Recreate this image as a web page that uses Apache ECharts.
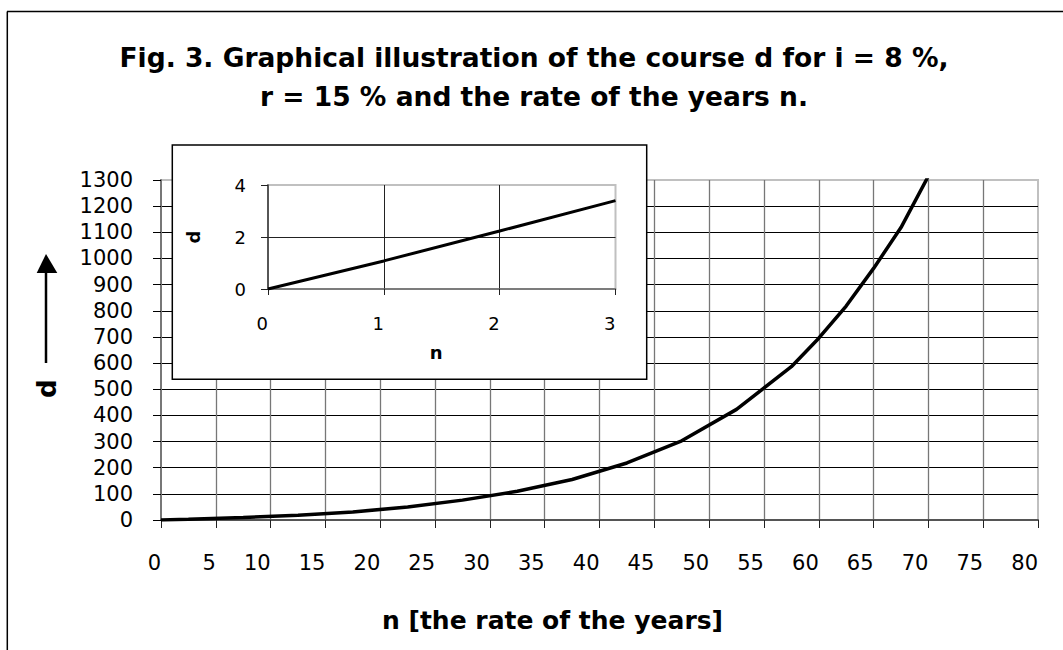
<!DOCTYPE html>
<html>
<head>
<meta charset="utf-8">
<script src="https://cdn.jsdelivr.net/npm/echarts@6/dist/echarts.min.js"></script>
<style>
html,body{margin:0;padding:0;background:#fff;}
#chart{width:1063px;height:650px;}
</style>
</head>
<body>
<div id="chart"></div>
<script>
// ---- data ----
const titleLines = ['Fig. 3. Graphical illustration of the course d for i = 8 %,', 'r = 15 % and the rate of the years n.'];
const xAxisTitle = 'n [the rate of the years]';
const yAxisTitle = 'd';
const insetXTitle = 'n';
const insetYTitle = 'd';

// main curve: n (years) and d
const nValues = [0, 2.5, 7.5, 12.5, 17.5, 22.5, 27.5, 32.5, 37.5, 42.5, 47.5, 52.5, 57.5, 60, 62.5, 65, 67.5, 70];
const dValues = [0, 3, 9.5, 18, 31, 50, 76, 110, 155, 218, 303, 423, 586, 695, 818, 962, 1118, 1315];

// inset curve
const insetN = [0, 1, 2, 3];
const insetD = [0, 1.08, 2.23, 3.4];

// axis scales
const xTicks = {min: 0, max: 80, step: 5};
const yTicks = {min: 0, max: 1300, step: 100};
const insetXTicks = {min: 0, max: 3, step: 1};
const insetYTicks = {min: 0, max: 4, step: 2};

const FONT = 'DejaVu Sans';
const plain = v => String(v);
const mainData = nValues.map((n, i) => [n, dValues[i]]);
const insetData = insetN.map((n, i) => [n, insetD[i]]);

const chart = echarts.init(document.getElementById('chart'), null, {renderer: 'svg'});
const option = {
  animation: false,
  backgroundColor: '#ffffff',
  grid: [
    {left: 161, top: 180, width: 877, height: 340, show: true, borderColor: '#c0c0c0', borderWidth: 2, backgroundColor: 'transparent', z: 0},
    {left: 268, top: 185, width: 347.5, height: 104, show: true, borderColor: '#c0c0c0', borderWidth: 2, backgroundColor: '#ffffff', z: 10}
  ],
  xAxis: [
    {
      type: 'value', gridIndex: 0, min: xTicks.min, max: xTicks.max, interval: xTicks.step,
      name: xAxisTitle, nameLocation: 'middle', nameGap: 88,
      nameTextStyle: {fontFamily: FONT, fontWeight: 'bold', fontSize: 25, color: '#000', padding: [0, 94, 0, 0]},
      axisLine: {show: true, onZero: false, lineStyle: {color: '#555', width: 2}},
      axisTick: {show: true, inside: false, length: 8, lineStyle: {color: '#222', width: 1}},
      axisLabel: {show: true, margin: 32, align: 'right', fontFamily: FONT, fontSize: 21, color: '#000', formatter: plain},
      splitLine: {show: true, showMinLine: false, showMaxLine: false, lineStyle: {color: '#777', width: 1.3}}
    },
    {
      type: 'value', gridIndex: 1, min: insetXTicks.min, max: insetXTicks.max, interval: insetXTicks.step, z: 10,
      name: insetXTitle, nameLocation: 'middle', nameGap: 54,
      nameTextStyle: {fontFamily: FONT, fontWeight: 'bold', fontSize: 18, color: '#000', padding: [0, 11, 0, 0]},
      axisLine: {show: true, onZero: false, lineStyle: {color: '#666', width: 1.5}},
      axisTick: {show: true, inside: false, length: 6, lineStyle: {color: '#222', width: 1}},
      axisLabel: {show: true, margin: 25, align: 'right', fontFamily: FONT, fontSize: 18, color: '#000', formatter: plain},
      splitLine: {show: true, showMinLine: false, showMaxLine: false, lineStyle: {color: '#222', width: 1}}
    }
  ],
  yAxis: [
    {
      type: 'value', gridIndex: 0, min: yTicks.min, max: yTicks.max, interval: yTicks.step,
      axisLine: {show: true, onZero: false, lineStyle: {color: '#777', width: 2}},
      axisTick: {show: true, inside: false, length: 8, lineStyle: {color: '#000', width: 1}},
      axisLabel: {show: true, margin: 28, fontFamily: FONT, fontSize: 21, color: '#000', formatter: plain},
      splitLine: {show: true, showMinLine: false, showMaxLine: false, lineStyle: {color: '#000', width: 1}}
    },
    {
      type: 'value', gridIndex: 1, min: insetYTicks.min, max: insetYTicks.max, interval: insetYTicks.step, z: 10,
      name: insetYTitle, nameLocation: 'middle', nameGap: 66, nameRotate: 90,
      nameTextStyle: {fontFamily: FONT, fontWeight: 'bold', fontSize: 18, color: '#000'},
      axisLine: {show: true, onZero: false, lineStyle: {color: '#333', width: 1.5}},
      axisTick: {show: true, inside: false, length: 7, lineStyle: {color: '#222', width: 1}},
      axisLabel: {show: true, margin: 22, fontFamily: FONT, fontSize: 18, color: '#000', formatter: plain},
      splitLine: {show: true, showMinLine: false, showMaxLine: false, lineStyle: {color: '#222', width: 1}}
    }
  ],
  series: [
    {type: 'line', xAxisIndex: 0, yAxisIndex: 0, data: mainData, symbol: 'none', smooth: false, z: 2,
     lineStyle: {color: '#000', width: 3.5}},
    {type: 'line', xAxisIndex: 1, yAxisIndex: 1, data: insetData, symbol: 'none', smooth: false, z: 12,
     lineStyle: {color: '#000', width: 3}}
  ],
  graphic: [
    // outer frame (top and left edges)
    {type: 'line', z: 1, shape: {x1: 7, y1: 11.5, x2: 1063, y2: 11.5}, style: {stroke: '#000', lineWidth: 1.5}},
    {type: 'line', z: 1, shape: {x1: 7.3, y1: 11.5, x2: 7.3, y2: 650}, style: {stroke: '#000', lineWidth: 1.5}},
    // title
    {type: 'text', z: 20, x: 534, y: 57.5, style: {text: titleLines[0], fontFamily: FONT, fontWeight: 'bold', fontSize: 26.5, fill: '#000', align: 'center', verticalAlign: 'middle'}},
    {type: 'text', z: 20, x: 534, y: 96.5, style: {text: titleLines[1], fontFamily: FONT, fontWeight: 'bold', fontSize: 26.5, fill: '#000', align: 'center', verticalAlign: 'middle'}},
    // y axis title with arrow
    {type: 'text', z: 20, x: 46.6, y: 388.7, rotation: Math.PI / 2, style: {text: yAxisTitle, fontFamily: FONT, fontWeight: 'bold', fontSize: 26, fill: '#000', align: 'center', verticalAlign: 'middle'}},
    {type: 'line', z: 20, shape: {x1: 46, y1: 363, x2: 46, y2: 270}, style: {stroke: '#000', lineWidth: 2.5}},
    {type: 'polygon', z: 20, shape: {points: [[46, 254], [36.7, 273], [57.3, 273]]}, style: {fill: '#000'}},
    // inset frame
    {type: 'rect', z: 5, shape: {x: 172.3, y: 145, width: 474.4, height: 234.3}, style: {fill: '#fff', stroke: '#000', lineWidth: 1.5}}
  ]
};
chart.setOption(option);
</script>
</body>
</html>
